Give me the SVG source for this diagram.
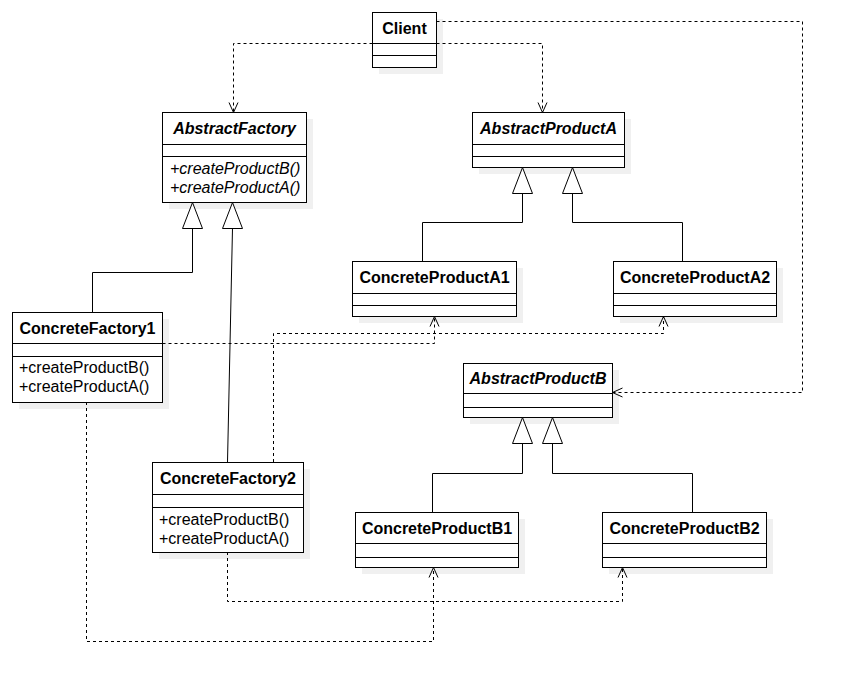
<svg xmlns="http://www.w3.org/2000/svg" width="853" height="693" viewBox="0 0 853 693">
<style>
.sh{fill:#f0f0f0;stroke:none}
.bx{fill:#fff;stroke:#000;stroke-width:1}
.ln{stroke:#000;stroke-width:1;fill:none}
.t{font-family:"Liberation Sans",Arial,sans-serif;font-size:16px;fill:#000}
.h{font-weight:bold;text-anchor:middle}
.i{font-style:italic}
.dep{stroke:#000;stroke-width:1;fill:none;stroke-dasharray:3 3}
.gen{stroke:#000;stroke-width:1;fill:none}
.tri{fill:#fff;stroke:#000;stroke-width:1}
.ah{fill:none;stroke:#000;stroke-width:1}
</style>
<defs>
<path id="ah" class="ah" d="M-4.5,10 L0,0 L4.5,10"/>
</defs>
<rect width="853" height="693" fill="#fff"/>

<g id="Client">
<rect class="sh" x="379" y="19" width="64" height="55"/>
<rect class="bx" x="372.5" y="12.5" width="64" height="55"/>
<path class="ln" d="M372.5,43.5 H436.5 M372.5,55.5 H436.5"/>
<text class="t h" x="404.5" y="34">Client</text>
</g>

<g id="AbstractFactory">
<rect class="sh" x="169" y="119" width="144" height="90"/>
<rect class="bx" x="162.5" y="112.5" width="144" height="90"/>
<path class="ln" d="M162.5,144.5 H306.5 M162.5,156.5 H306.5"/>
<text class="t h i" x="234.5" y="134">AbstractFactory</text>
<text class="t i" x="170" y="174">+createProductB()</text>
<text class="t i" x="170" y="193">+createProductA()</text>
</g>

<g id="AbstractProductA">
<rect class="sh" x="479" y="119" width="152" height="55"/>
<rect class="bx" x="472.5" y="112.5" width="152" height="55"/>
<path class="ln" d="M472.5,144.5 H624.5 M472.5,156.5 H624.5"/>
<text class="t h i" x="548.5" y="134">AbstractProductA</text>
</g>

<g id="ConcreteProductA1">
<rect class="sh" x="359" y="268" width="164" height="55"/>
<rect class="bx" x="352.5" y="261.5" width="164" height="55"/>
<path class="ln" d="M352.5,293.5 H516.5 M352.5,305.5 H516.5"/>
<text class="t h" x="434.5" y="283">ConcreteProductA1</text>
</g>

<g id="ConcreteProductA2">
<rect class="sh" x="620" y="268" width="163" height="55"/>
<rect class="bx" x="613.5" y="261.5" width="163" height="55"/>
<path class="ln" d="M613.5,293.5 H776.5 M613.5,305.5 H776.5"/>
<text class="t h" x="695" y="283">ConcreteProductA2</text>
</g>

<g id="ConcreteFactory1">
<rect class="sh" x="19" y="319" width="150" height="90"/>
<rect class="bx" x="12.5" y="312.5" width="150" height="90"/>
<path class="ln" d="M12.5,343.5 H162.5 M12.5,356.5 H162.5"/>
<text class="t h" x="87.5" y="334">ConcreteFactory1</text>
<text class="t" x="19" y="373">+createProductB()</text>
<text class="t" x="19" y="392">+createProductA()</text>
</g>

<g id="ConcreteFactory2">
<rect class="sh" x="159" y="469" width="151" height="90"/>
<rect class="bx" x="152.5" y="462.5" width="151" height="90"/>
<path class="ln" d="M152.5,494.5 H303.5 M152.5,507.5 H303.5"/>
<text class="t h" x="228" y="484">ConcreteFactory2</text>
<text class="t" x="159" y="525">+createProductB()</text>
<text class="t" x="159" y="544">+createProductA()</text>
</g>

<g id="AbstractProductB">
<rect class="sh" x="470" y="370" width="149" height="54"/>
<rect class="bx" x="463.5" y="363.5" width="149" height="54"/>
<path class="ln" d="M463.5,393.5 H612.5 M463.5,407.5 H612.5"/>
<text class="t h i" x="538" y="384">AbstractProductB</text>
</g>

<g id="ConcreteProductB1">
<rect class="sh" x="362" y="519" width="163" height="55"/>
<rect class="bx" x="355.5" y="512.5" width="163" height="55"/>
<path class="ln" d="M355.5,543.5 H518.5 M355.5,557.5 H518.5"/>
<text class="t h" x="437" y="534">ConcreteProductB1</text>
</g>

<g id="ConcreteProductB2">
<rect class="sh" x="609" y="519" width="164" height="55"/>
<rect class="bx" x="602.5" y="512.5" width="164" height="55"/>
<path class="ln" d="M602.5,543.5 H766.5 M602.5,557.5 H766.5"/>
<text class="t h" x="684.5" y="534">ConcreteProductB2</text>
</g>

<g id="connectors">
<path class="dep" d="M372.5,43.5 H233.5 V112"/>
<use href="#ah" transform="translate(233.5,112.5) rotate(180)"/>
<path class="dep" d="M436.5,43.5 H542.5 V112"/>
<use href="#ah" transform="translate(542.5,112.5) rotate(180)"/>
<path class="dep" d="M436.5,21.5 H802.5 V392.5 H613"/>
<use href="#ah" transform="translate(612.5,392.5) rotate(-90)"/>
<path class="dep" d="M162.5,343.5 H434.5 V317"/>
<use href="#ah" transform="translate(434.5,316.5)"/>
<path class="dep" d="M273.5,462 V333.5 H663.5 V317"/>
<use href="#ah" transform="translate(663.5,316.5)"/>
<path class="dep" d="M86.5,402 V641.5 H433.5 V568"/>
<use href="#ah" transform="translate(433.5,567.5)"/>
<path class="dep" d="M227.5,552 V601.5 H622.5 V568"/>
<use href="#ah" transform="translate(622.5,567.5)"/>
<path class="gen" d="M192.5,228 V272.5 H92.5 V312"/>
<path class="tri" d="M192.5,202.5 L202.5,228.5 L182.5,228.5 Z"/>
<path class="gen" d="M232.5,228 L227.5,462"/>
<path class="tri" d="M232.5,202.5 L242.5,228.5 L222.5,228.5 Z"/>
<path class="gen" d="M522.5,193 V222.5 H422.5 V261"/>
<path class="tri" d="M522.5,167.5 L532.5,193.5 L512.5,193.5 Z"/>
<path class="gen" d="M572.5,193 V222.5 H682.5 V261"/>
<path class="tri" d="M572.5,167.5 L582.5,193.5 L562.5,193.5 Z"/>
<path class="gen" d="M522.5,443 V473.5 H432.5 V512"/>
<path class="tri" d="M522.5,417.5 L532.5,443.5 L512.5,443.5 Z"/>
<path class="gen" d="M552.5,443 V473.5 H692.5 V512"/>
<path class="tri" d="M552.5,417.5 L562.5,443.5 L542.5,443.5 Z"/>
</g>
</svg>
